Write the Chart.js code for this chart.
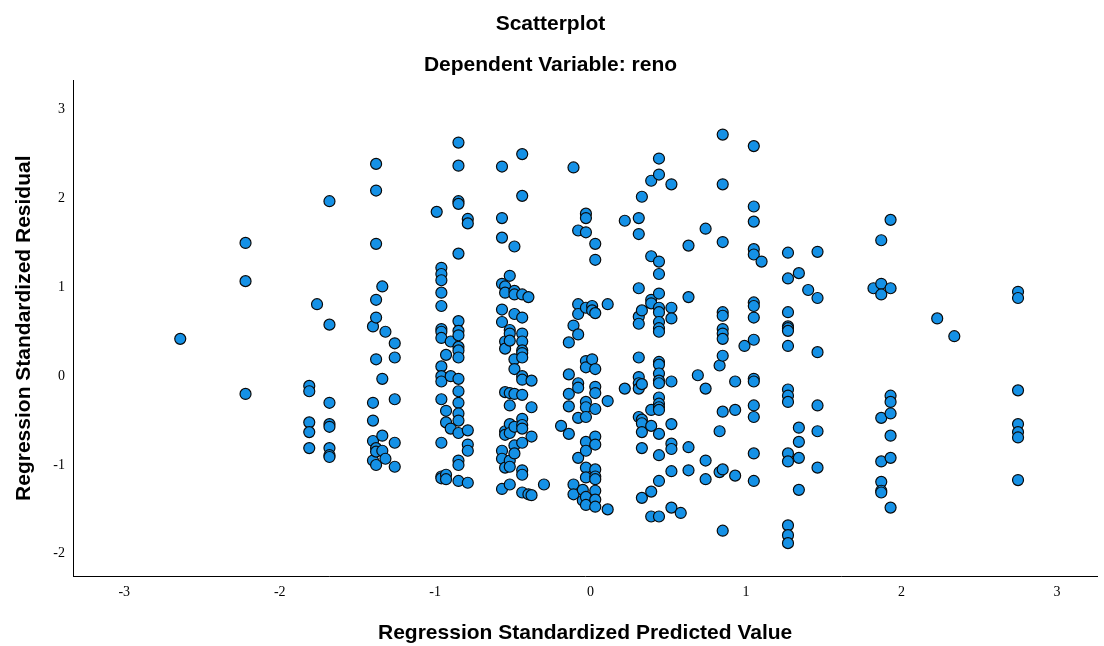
<!DOCTYPE html>
<html>
<head>
<meta charset="utf-8">
<title>Scatterplot</title>
<script src="https://cdn.jsdelivr.net/npm/chart.js@4.4.1/dist/chart.umd.min.js"></script>
<style>
  html, body { margin: 0; padding: 0; background: #fff; }
  #wrap { width: 1104px; height: 646px; position: relative; }
</style>
</head>
<body>
<div id="wrap"><canvas id="residualChart"></canvas></div>
<script>
// Standardized predicted values (one entry per column of cases)
const predicted = [
  -2.64, -2.22, -1.81, -1.76, -1.68, -1.40, -1.38, -1.34, -1.32, -1.26,
  -0.99, -0.96, -0.93, -0.90, -0.85, -0.79,
  -0.57, -0.55, -0.52, -0.49, -0.44, -0.40, -0.38,
  -0.30, -0.19, -0.14, -0.11, -0.08, -0.05, -0.03, 0.01, 0.03, 0.11,
  0.22, 0.31, 0.33, 0.39, 0.44, 0.52, 0.58, 0.63, 0.69, 0.74,
  0.83, 0.85, 0.93, 0.99, 1.05, 1.10,
  1.27, 1.34, 1.40, 1.46, 1.82, 1.87, 1.93, 2.23, 2.34, 2.75
];

// Standardized residuals for each predicted value above
const residuals = [
  [0.42],
  [1.50, 1.07, -0.20],
  [-0.11, -0.17, -0.52, -0.63, -0.81],
  [0.81],
  [1.97, 0.58, -0.30, -0.54, -0.57, -0.81, -0.89, -0.91],
  [0.56, -0.30, -0.50, -0.73, -0.95],
  [2.39, 2.09, 1.49, 0.86, 0.66, 0.19, -0.81, -0.85, -1.00],
  [1.01, -0.03, -0.67, -0.84],
  [0.50, -0.93],
  [0.37, 0.21, -0.26, -0.75, -1.02],
  [1.85],
  [1.22, 1.15, 1.08, 0.94, 0.79, 0.53, 0.50, 0.43, 0.11, 0.00, -0.06, -0.26, -0.75, -1.13, -1.15],
  [0.24, -0.39, -0.52, -1.11, -1.16],
  [0.39, 0.00, -0.59],
  [2.63, 2.37, 1.97, 1.94, 1.38, 0.62, 0.51, 0.46, 0.33, 0.29, 0.21, -0.03, -0.17, -0.30, -0.42, -0.50, -0.64, -0.95, -1.00, -1.18],
  [1.77, 1.72, -0.61, -0.77, -0.84, -1.20],
  [2.36, 1.78, 1.56, 1.04, 0.75, 0.61, -0.84, -0.93, -1.27],
  [1.01, 0.94, 0.39, 0.31, -0.18, -0.62, -0.66, -1.03],
  [1.13, 0.52, 0.48, 0.40, -0.19, -0.33, -0.54, -0.64, -0.95, -1.02, -1.22],
  [1.46, 0.96, 0.92, 0.70, 0.19, 0.08, -0.20, -0.57, -0.78, -0.87],
  [2.50, 2.03, 0.92, 0.66, 0.48, 0.39, 0.29, 0.26, 0.21, 0.00, -0.04, -0.21, -0.48, -0.55, -0.59, -0.75, -1.06, -1.11, -1.31],
  [0.89, -1.33],
  [-0.05, -0.35, -0.68, -1.34],
  [-1.22],
  [-0.56],
  [0.38, 0.02, -0.20, -0.34, -0.65],
  [2.35, 0.57, -1.22, -1.33],
  [1.64, 0.81, 0.70, 0.47, -0.08, -0.13, -0.47, -0.92],
  [-1.28, -1.40],
  [1.83, 1.78, 1.62, 0.77, 0.17, 0.10, -0.29, -0.35, -0.46, -0.74, -0.84, -1.03, -1.14, -1.36, -1.45],
  [0.79, 0.74, 0.19],
  [1.49, 1.31, 0.71, 0.08, -0.12, -0.19, -0.37, -0.68, -0.77, -1.05, -1.13, -1.16, -1.29, -1.39, -1.47],
  [0.81, -0.28, -1.50],
  [1.75, -0.14],
  [1.78, 1.60, 0.99, 0.67, 0.59, 0.21, -0.01, -0.08, -0.14, -0.46],
  [2.02, 0.74, -0.09, -0.49, -0.53, -0.63, -0.81, -1.37],
  [2.20, 1.35, 0.86, 0.82, -0.38, -0.56, -1.30, -1.58],
  [2.45, 2.27, 1.29, 1.15, 0.93, 0.77, 0.72, 0.61, 0.54, 0.50, 0.16, 0.13, 0.03, -0.05, -0.08, -0.24, -0.31, -0.35, -0.38, -0.65, -0.89, -1.18, -1.58],
  [2.16, 0.77, 0.65, -0.06, -0.54, -0.76, -0.82, -1.07, -1.48],
  [-1.54],
  [1.47, 0.89, -0.80, -1.06],
  [0.01],
  [1.66, -0.14, -0.95, -1.16],
  [0.12, -0.62, -1.08],
  [2.72, 2.16, 1.51, 0.72, 0.68, 0.53, 0.48, 0.42, 0.23, -0.40, -1.05, -1.74],
  [-0.06, -0.38, -1.12],
  [0.34],
  [2.59, 1.91, 1.74, 1.43, 1.37, 0.83, 0.79, 0.66, 0.41, -0.03, -0.06, -0.33, -0.46, -0.87, -1.18],
  [1.29],
  [1.39, 1.10, 0.72, 0.56, 0.54, 0.51, 0.34, -0.15, -0.22, -0.29, -0.87, -0.96, -1.68, -1.79, -1.88],
  [1.16, -0.58, -0.74, -0.92, -1.28],
  [0.97],
  [1.40, 0.88, 0.27, -0.33, -0.62, -1.03],
  [0.99],
  [1.53, 1.04, 0.92, -0.47, -0.96, -1.19, -1.29, -1.31],
  [1.76, 0.99, -0.22, -0.29, -0.42, -0.67, -0.92, -1.48],
  [0.65],
  [0.45],
  [0.95, 0.88, -0.16, -0.54, -0.63, -0.69, -1.17]
];

// Tick labels on both axes
const xTicks = [-3, -2, -1, 0, 1, 2, 3];
const yTicks = [-2, -1, 0, 1, 2, 3];

const sansFont = "'Liberation Sans', Arial, sans-serif";
const serifFont = "'Liberation Serif', 'Times New Roman', serif";

// Flatten columns into {x, y} points
const points = [];
predicted.forEach((x, i) => {
  residuals[i].forEach(y => points.push({ x: x, y: y }));
});

const ctx = document.getElementById('residualChart').getContext('2d');
new Chart(ctx, {
  type: 'scatter',
  data: {
    datasets: [{
      data: points,
      backgroundColor: '#1591e6',
      borderColor: '#0a0a0a',
      borderWidth: 1.2,
      pointRadius: 5.5,
      pointHoverRadius: 5.5
    }]
  },
  options: {
    responsive: true,
    maintainAspectRatio: false,
    animation: false,
    layout: { padding: { left: 0, right: 3, top: 0, bottom: 0 } },
    plugins: {
      legend: { display: false },
      tooltip: { enabled: false },
      title: {
        display: true,
        text: 'Scatterplot',
        color: '#000',
        font: { family: sansFont, size: 21, weight: 'bold' },
        padding: { top: 12, bottom: 15 }
      },
      subtitle: {
        display: true,
        text: 'Dependent Variable: reno',
        color: '#000',
        font: { family: sansFont, size: 21, weight: 'bold' },
        padding: { top: 0, bottom: 3 }
      }
    },
    scales: {
      x: {
        type: 'linear',
        min: -3.33,
        max: 3.26,
        grid: { display: false, drawTicks: false, tickLength: 0 },
        border: { display: true, color: '#000', width: 1 },
        ticks: {
          color: '#000',
          font: { family: serifFont, size: 14 },
          padding: 8,
          callback: v => String(v)
        },
        title: {
          display: true,
          text: 'Regression Standardized Predicted Value',
          color: '#000',
          font: { family: sansFont, size: 21, weight: 'bold' },
          padding: { top: 0, bottom: 0 }
        },
        afterBuildTicks: scale => { scale.ticks = xTicks.map(v => ({ value: v })); },
        afterFit: scale => { scale.height = 70; }
      },
      y: {
        type: 'linear',
        min: -2.25,
        max: 3.33,
        grid: { display: false, drawTicks: false, tickLength: 0 },
        border: { display: true, color: '#000', width: 1 },
        ticks: {
          color: '#000',
          font: { family: serifFont, size: 14 },
          padding: 8,
          callback: v => String(v)
        },
        title: {
          display: true,
          text: 'Regression Standardized Residual',
          color: '#000',
          font: { family: sansFont, size: 21, weight: 'bold' },
          padding: { top: 12, bottom: 0 }
        },
        afterBuildTicks: scale => { scale.ticks = yTicks.map(v => ({ value: v })); },
        afterFit: scale => { scale.width = 73; }
      }
    }
  }
});
</script>
</body>
</html>
